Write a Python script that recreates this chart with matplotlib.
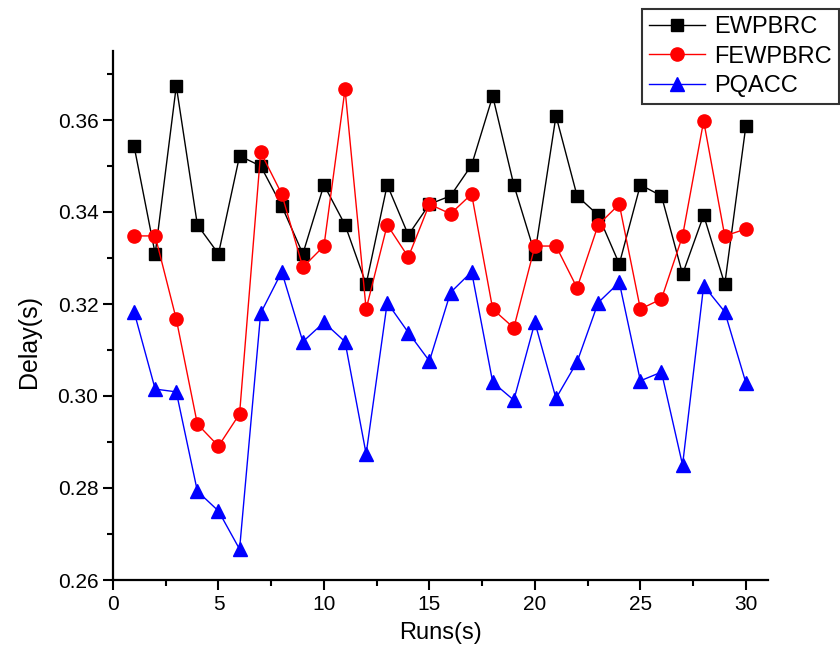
import numpy as np
import matplotlib
matplotlib.use("Agg")
import matplotlib.pyplot as plt
from matplotlib.ticker import MultipleLocator

plt.rcParams['font.family'] = ['Liberation Sans', 'DejaVu Sans']

runs = np.arange(1, 31)

# delay values
ewpbrc = [0.3543, 0.3309, 0.3674, 0.3372, 0.3309, 0.3522, 0.3500, 0.3413, 0.3309, 0.3459,
          0.3372, 0.3243, 0.3459, 0.3350, 0.3417, 0.3435, 0.3502, 0.3652, 0.3459, 0.3309,
          0.3609, 0.3435, 0.3393, 0.3287, 0.3459, 0.3435, 0.3265, 0.3393, 0.3243, 0.3587]
fewpbrc = [0.3348, 0.3348, 0.3167, 0.2939, 0.2891, 0.2961, 0.3530, 0.3439, 0.3280, 0.3326,
           0.3667, 0.3189, 0.3372, 0.3302, 0.3417, 0.3396, 0.3439, 0.3189, 0.3148, 0.3326,
           0.3326, 0.3235, 0.3372, 0.3417, 0.3189, 0.3211, 0.3348, 0.3598, 0.3348, 0.3363]
pqacc = [0.3183, 0.3015, 0.3009, 0.2793, 0.2750, 0.2667, 0.3180, 0.3270, 0.3118, 0.3160,
         0.3118, 0.2874, 0.3203, 0.3138, 0.3076, 0.3225, 0.3270, 0.3030, 0.2991, 0.3160,
         0.2995, 0.3074, 0.3203, 0.3247, 0.3033, 0.3052, 0.2850, 0.3240, 0.3183, 0.3029]

fig = plt.figure(figsize=(8.4, 6.58), dpi=100)
ax = fig.add_axes([113 / 840, 1 - 580 / 658, (768 - 113) / 840, (580 - 51) / 658])

ax.plot(runs, ewpbrc, color='black', lw=1.0, marker='s', ms=8, label='EWPBRC')
ax.plot(runs, fewpbrc, color='red', lw=1.0, marker='o', ms=9.5, label='FEWPBRC')
ax.plot(runs, pqacc, color='blue', lw=1.0, marker='^', ms=10.5, label='PQACC')

ax.set_xlim(0, 31.05)
ax.set_ylim(0.26, 0.375)
ax.xaxis.set_major_locator(MultipleLocator(5))
ax.xaxis.set_minor_locator(MultipleLocator(2.5))
ax.yaxis.set_major_locator(MultipleLocator(0.02))
ax.yaxis.set_minor_locator(MultipleLocator(0.01))
ax.yaxis.set_major_formatter(matplotlib.ticker.FormatStrFormatter('%.2f'))

for side in ('top', 'right'):
    ax.spines[side].set_visible(False)
for side in ('left', 'bottom'):
    ax.spines[side].set_linewidth(1.6)

ax.tick_params(which='major', direction='out', length=7, width=1.5, labelsize=15)
ax.tick_params(which='minor', direction='out', length=4, width=1.5)

ax.set_xlabel('Runs(s)', fontsize=17, labelpad=6)
ax.set_ylabel('Delay(s)', fontsize=18)
ax.yaxis.set_label_coords(-0.11, 0.45)

leg = fig.legend(loc='upper right', bbox_to_anchor=(839 / 840, 1 - 9 / 658),
                 fontsize=17, frameon=True, fancybox=False, edgecolor='black',
                 borderaxespad=0, handlelength=2.35, borderpad=0.3,
                 labelspacing=0.32, handletextpad=0.4)
leg.get_frame().set_linewidth(1.5)

fig.savefig('out.png', dpi=100)
